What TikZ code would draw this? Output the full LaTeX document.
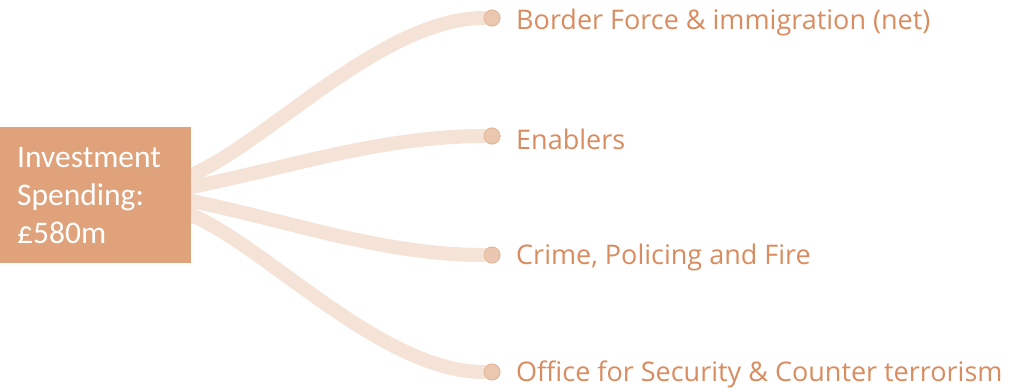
\documentclass[tikz,border=0pt]{standalone}
\usepackage{fontspec}
\setmainfont{Carlito}
\newfontfamily\labfont{Open Sans}
\definecolor{boxfill}{HTML}{DFA27B}
\definecolor{linkcol}{HTML}{F5E3D8}
\definecolor{dotfill}{HTML}{EBC7B0}
\definecolor{dotedge}{HTML}{E3B79B}
\definecolor{labcol}{HTML}{D98C5F}
\begin{document}
\begin{tikzpicture}[x=1bp,y=-1bp,
  mainbox/.style={fill=boxfill,text=white,minimum width=191bp,minimum height=136bp,inner sep=0pt,anchor=north west},
  link/.style={draw=linkcol,line width=14bp,line cap=round},
  enddot/.style={circle,fill=dotfill,draw=dotedge,line width=0.8bp,minimum size=16bp,inner sep=0pt},
  leaf/.style={anchor=west,text=labcol,font=\labfont\fontsize{27bp}{30bp}\selectfont,inner sep=0pt}]
\useasboundingbox (0,0) rectangle (1013,387);
\coordinate (s1) at (186,177);
\coordinate (s2) at (186,188);
\coordinate (s3) at (186,200);
\coordinate (s4) at (186,213);
\node[enddot] (d1) at (492,18) {};
\node[enddot] (d2) at (492,136) {};
\node[enddot] (d3) at (492,255) {};
\node[enddot] (d4) at (492,372) {};
\draw[link] (s1) .. controls (260,150) and (380,18) .. (d1.west);
\draw[link] (s2) .. controls (280,170) and (380,136) .. (d2.west);
\draw[link] (s3) .. controls (280,218) and (380,255) .. (d3.west);
\draw[link] (s4) .. controls (260,240) and (380,372) .. (d4.west);
\node[enddot] at (d1) {};
\node[enddot] at (d2) {};
\node[enddot] at (d3) {};
\node[enddot] at (d4) {};
\node[mainbox] (box) at (0,127) {};
\node[anchor=west,text=white,align=left,font=\fontsize{31.5bp}{38bp}\selectfont,inner sep=0pt] (boxtext) at (17,196) {Investment\\Spending:\\£580m};
\node[leaf] (l1) at (516,22) {Border Force \& immigration (net)};
\node[leaf] (l2) at (516,139) {Enablers};
\node[leaf] (l3) at (516,257) {Crime, Policing and Fire};
\node[leaf] (l4) at (516,374) {Office for Security \& Counter terrorism};
\end{tikzpicture}
\end{document}
